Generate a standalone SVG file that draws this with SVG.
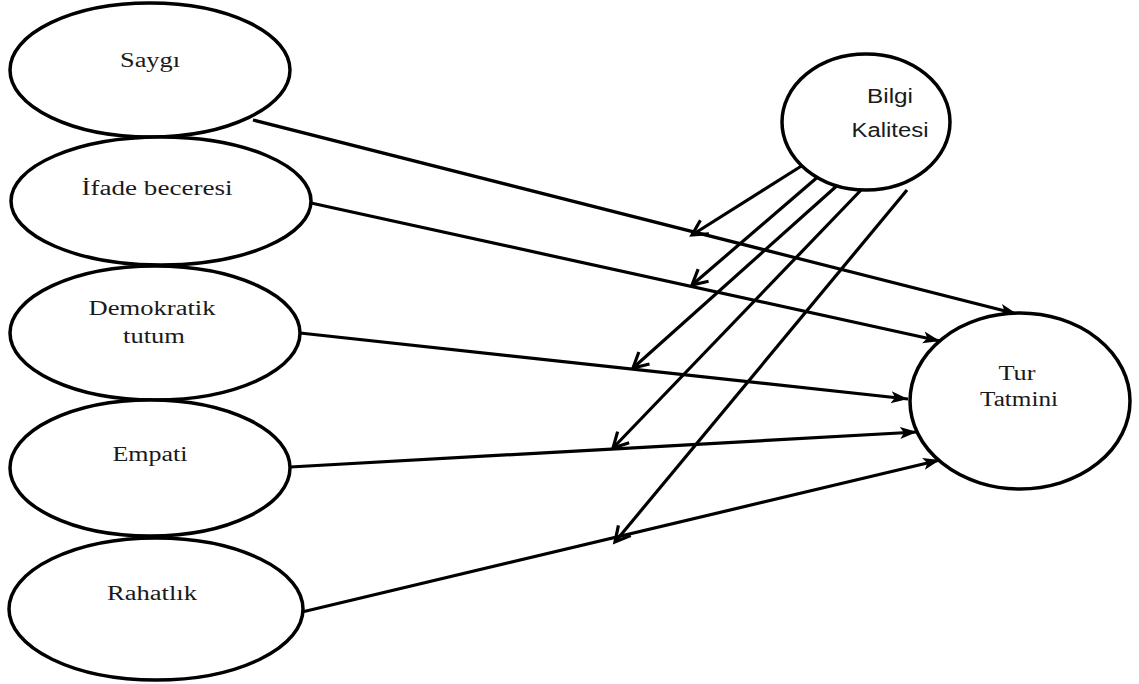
<svg xmlns="http://www.w3.org/2000/svg" width="1139" height="684" viewBox="0 0 1139 684">
<defs>
<style>
.node{fill:#fff;stroke:#000;stroke-width:3.5}
.serif{font-family:"Liberation Serif","Times New Roman",serif;font-size:20px;fill:#1a1a1a}
.sans{font-family:"Liberation Sans",Arial,sans-serif;font-size:20px;fill:#1a1a1a}
.edge{stroke:#000;stroke-width:3.2;fill:none}
.solid{marker-end:url(#fill)}
.open{marker-end:url(#vee)}
</style>
<marker id="fill" markerUnits="userSpaceOnUse" markerWidth="20" markerHeight="14" refX="17" refY="7" orient="auto">
<path d="M0,1 L17,7 L0,13 L4,7 Z" fill="#000"/>
</marker>
<marker id="vee" markerUnits="userSpaceOnUse" markerWidth="22" markerHeight="20" refX="18" refY="10" orient="auto">
<path d="M3,2 L18,10 L3,18" fill="none" stroke="#000" stroke-width="3.2" stroke-linejoin="miter"/>
</marker>
</defs>
<rect width="1139" height="684" fill="#fff"/>
<g id="connectors">
<line class="edge solid" x1="253" y1="120" x2="1017" y2="314"/>
<line class="edge solid" x1="311" y1="203" x2="940" y2="341"/>
<line class="edge solid" x1="300" y1="333" x2="908" y2="399"/>
<line class="edge solid" x1="290" y1="467" x2="917" y2="432"/>
<line class="edge solid" x1="302" y1="612" x2="940" y2="460"/>
<line class="edge open" x1="803" y1="165" x2="692" y2="235"/>
<line class="edge open" x1="820" y1="175" x2="692" y2="285"/>
<line class="edge open" x1="840" y1="183" x2="633" y2="368"/>
<line class="edge open" x1="863" y1="188" x2="613" y2="448"/>
<line class="edge open" x1="907" y1="190" x2="615" y2="542"/>
</g>
<g id="saygi">
<ellipse class="node" cx="150" cy="70" rx="140" ry="67"/>
<text class="serif" x="150" y="67" text-anchor="middle" textLength="60" lengthAdjust="spacingAndGlyphs">Saygı</text>
</g>
<g id="ifade">
<ellipse class="node" cx="161" cy="201" rx="150" ry="64"/>
<text class="serif" x="157" y="195" text-anchor="middle" textLength="151" lengthAdjust="spacingAndGlyphs">İfade beceresi</text>
</g>
<g id="demokratik">
<ellipse class="node" cx="155" cy="333" rx="145" ry="67"/>
<text class="serif" x="152" y="315" text-anchor="middle" textLength="127" lengthAdjust="spacingAndGlyphs">Demokratik</text>
<text class="serif" x="154" y="343" text-anchor="middle" textLength="62" lengthAdjust="spacingAndGlyphs">tutum</text>
</g>
<g id="empati">
<ellipse class="node" cx="150" cy="468" rx="140" ry="68"/>
<text class="serif" x="150" y="461" text-anchor="middle" textLength="75" lengthAdjust="spacingAndGlyphs">Empati</text>
</g>
<g id="rahatlik">
<ellipse class="node" cx="156" cy="609" rx="147" ry="71"/>
<text class="serif" x="152" y="600" text-anchor="middle" textLength="90" lengthAdjust="spacingAndGlyphs">Rahatlık</text>
</g>
<g id="bilgi">
<ellipse class="node" cx="866" cy="122" rx="84" ry="68"/>
<text class="sans" x="890" y="103" text-anchor="middle" textLength="46" lengthAdjust="spacingAndGlyphs">Bilgi</text>
<text class="sans" x="890" y="137" text-anchor="middle" textLength="77" lengthAdjust="spacingAndGlyphs">Kalitesi</text>
</g>
<g id="tur">
<ellipse class="node" cx="1020" cy="401" rx="110" ry="88"/>
<text class="serif" x="1017" y="380" text-anchor="middle" textLength="37" lengthAdjust="spacingAndGlyphs">Tur</text>
<text class="serif" x="1019" y="406" text-anchor="middle" textLength="78" lengthAdjust="spacingAndGlyphs">Tatmini</text>
</g>
</svg>
